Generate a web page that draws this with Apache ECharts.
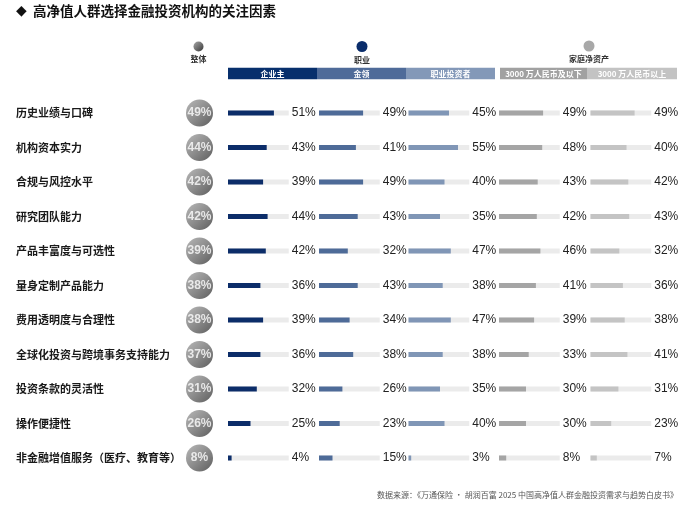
<!DOCTYPE html>
<html><head><meta charset="utf-8">
<script src="https://cdn.jsdelivr.net/npm/echarts@6/dist/echarts.min.js"></script>
<style>html,body{margin:0;padding:0;background:#fff}#c{width:684px;height:511px}</style>
</head><body><div id="c"></div>
<script>
const categories = ['历史业绩与口碑','机构资本实力','合规与风控水平','研究团队能力','产品丰富度与可选性','量身定制产品能力','费用透明度与合理性','全球化投资与跨境事务支持能力','投资条款的灵活性','操作便捷性','非金融增值服务（医疗、教育等）'];
const overall       = [49,44,42,42,39,38,38,37,31,26,8];
const entrepreneur  = [51,43,39,44,42,36,39,36,32,25,4];
const whiteCollar   = [49,41,49,43,32,43,34,38,26,23,15];
const proInvestor   = [45,55,40,35,47,38,47,38,35,40,3];
const assetsBelow   = [49,48,43,42,46,41,39,33,30,30,8];
const assetsAbove   = [49,40,42,43,32,36,38,41,31,23,7];
const columnNames   = ['企业主','金领','职业投资者','3000 万人民币及以下','3000 万人民币以上'];
const groupNames    = ['整体','职业','家庭净资产'];

const colSeries = [entrepreneur, whiteCollar, proInvestor, assetsBelow, assetsAbove];
const colColors = ['#0c2d69','#4e6b98','#8096b6','#a5a5a5','#c4c4c4'];
const headColors = ['#072f6c','#4f6b99','#8398b8','#a1a1a1','#c3c3c3'];
const colLeft = [228, 319, 408.5, 499, 590.5];
const TRACK = 67.5;
const TOP = 95.75, H = 379.5;
const cjk = '"Noto Sans CJK SC", sans-serif';
const num = '"Liberation Sans", Arial, sans-serif';
const bubbleFill = {type:'linear',x:0,y:0,x2:1,y2:1,colorStops:[{offset:0,color:'#a6a6a6'},{offset:0.5,color:'#707070'},{offset:1,color:'#353535'}]};

const chart = echarts.init(document.getElementById('c'));
const grids = [{left:186, top:TOP, width:27, height:H}];
const xAxes = [{gridIndex:0, type:'category', data:[groupNames[0]], show:false}];
const yAxes = [{gridIndex:0, type:'category', data:categories, inverse:true,
  axisLine:{show:false}, axisTick:{show:false}, splitLine:{show:false},
  axisLabel:{align:'left', margin:170, fontFamily:cjk, fontWeight:'bold', fontSize:11, color:'#1a1a1a'}}];
const series = [{
  type:'scatter', xAxisIndex:0, yAxisIndex:0, symbolSize:27,
  data: categories.map((c,i)=>[groupNames[0], c, overall[i]]),
  encode:{x:0,y:1},
  itemStyle:{color:bubbleFill},
  label:{show:true, position:'inside', formatter:p=>p.data[2]+'%', color:'#fff', fontWeight:'bold', fontSize:12, fontFamily:num}
}];
colSeries.forEach((vals, k)=>{
  const g = k+1;
  grids.push({left:colLeft[k], top:TOP, width:90, height:H});
  xAxes.push({gridIndex:g, type:'value', min:0, max:100, show:false});
  yAxes.push({gridIndex:g, type:'category', data:categories, inverse:true, show:false});
  series.push({
    type:'bar', xAxisIndex:g, yAxisIndex:g, barWidth:5, silent:true,
    data: vals.map(()=>TRACK), itemStyle:{color:'#ebebeb'},
    label:{show:true, position:'right', distance:3, formatter:p=>vals[p.dataIndex]+'%', fontFamily:num, fontSize:12, color:'#222'}
  });
  series.push({
    type:'bar', xAxisIndex:g, yAxisIndex:g, barWidth:5, barGap:'-100%',
    data: vals, itemStyle:{color:colColors[k]}
  });
});

const graphic = [
  {type:'text', left:16, top:4, style:{text:'◆', font:'bold 14px "DejaVu Sans", sans-serif', fill:'#111'}},
  {type:'text', left:33, top:4, style:{text:'高净值人群选择金融投资机构的关注因素', font:'bold 13.5px '+cjk, fill:'#111'}},
  {type:'circle', shape:{cx:198.5, cy:46.5, r:5}, style:{fill:bubbleFill}},
  {type:'circle', shape:{cx:362, cy:46.5, r:5.5}, style:{fill:'#0a2d6b'}},
  {type:'circle', shape:{cx:589, cy:46, r:5.5}, style:{fill:'#a8a8a8'}},
  {type:'text', x:198.5, y:59, style:{text:groupNames[0], font:'bold 8px '+cjk, fill:'#333', align:'center', verticalAlign:'middle'}},
  {type:'text', x:362, y:59.5, style:{text:groupNames[1], font:'bold 8px '+cjk, fill:'#333', align:'center', verticalAlign:'middle'}},
  {type:'text', x:589, y:59, style:{text:groupNames[2], font:'bold 8px '+cjk, fill:'#333', align:'center', verticalAlign:'middle'}},
  {type:'text', right:6, top:491, style:{text:'数据来源：《万通保险 · 胡润百富 2025 中国高净值人群金融投资需求与趋势白皮书》', font:'8px '+cjk, fill:'#555'}}
];
const heads = [[228,317],[317,406],[406,495],[500,587],[587,677]];
heads.forEach((h,k)=>{
  graphic.push({type:'rect', shape:{x:h[0], y:67.8, width:h[1]-h[0], height:11.5}, style:{fill:headColors[k]}});
  graphic.push({type:'text', x:(h[0]+h[1])/2, y:73.6, style:{text:columnNames[k], font:'bold 8px '+cjk, fill:'#fff', align:'center', verticalAlign:'middle'}});
});

chart.setOption({animation:false, grid:grids, xAxis:xAxes, yAxis:yAxes, series:series, graphic:graphic});
</script></body></html>
